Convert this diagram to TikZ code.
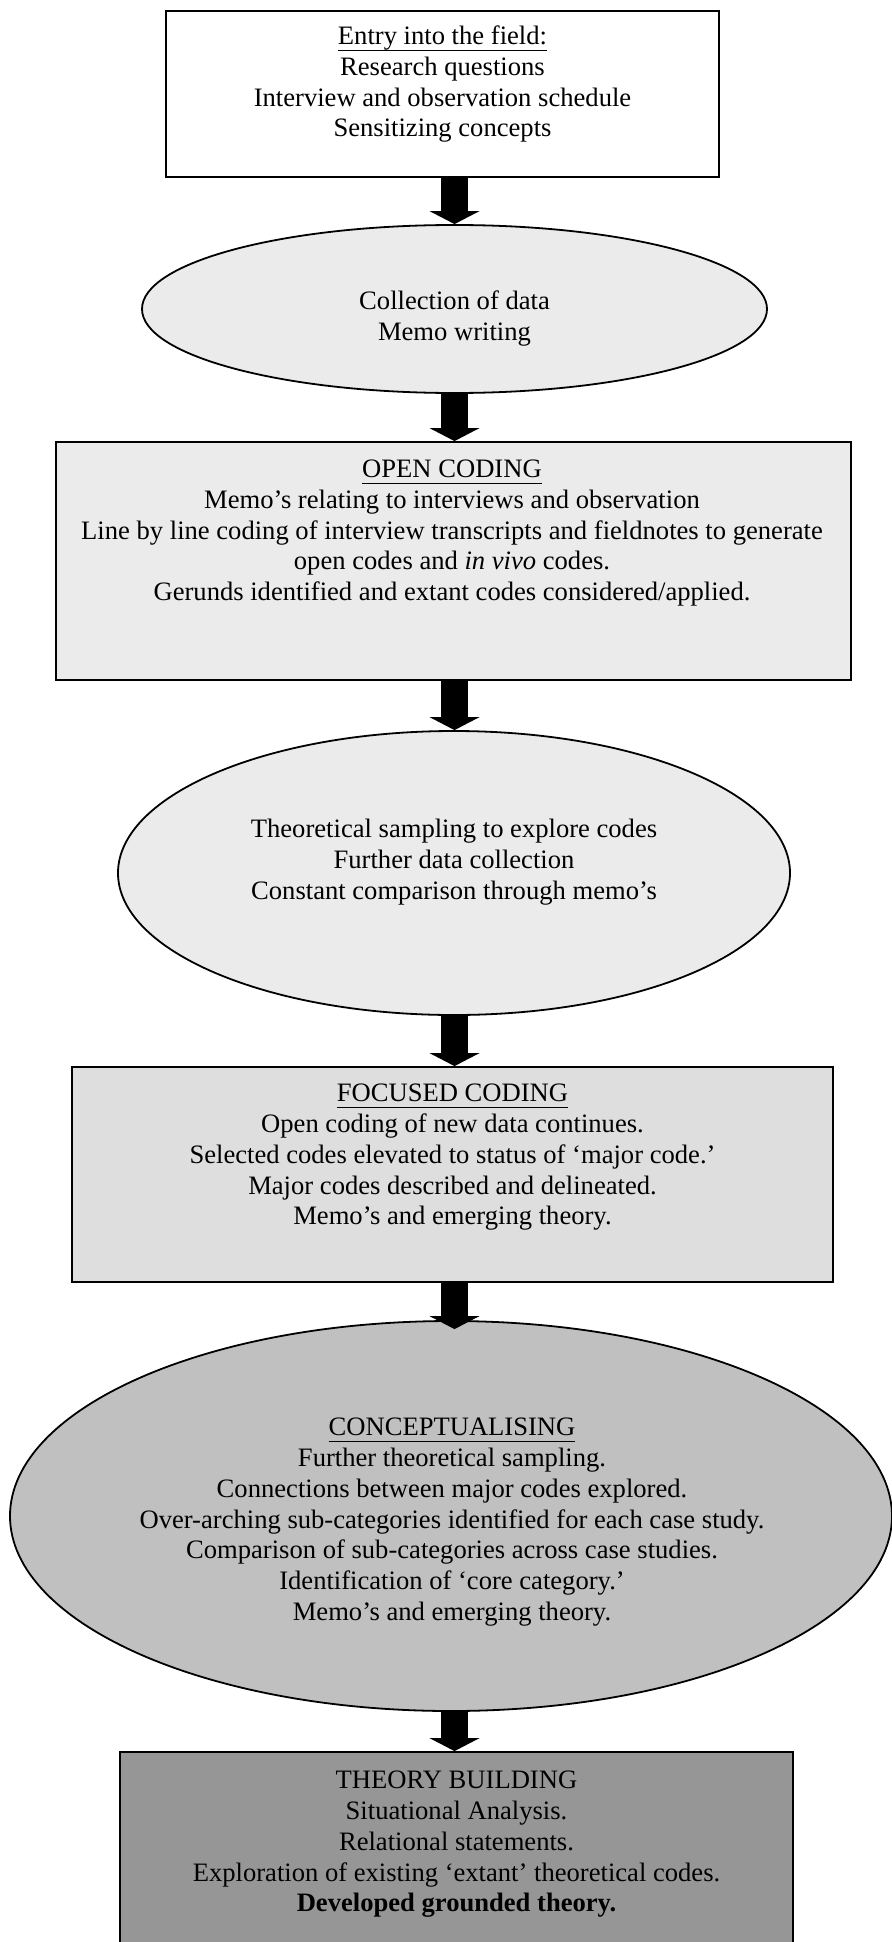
\documentclass[tikz,border=0pt]{standalone}
\usepackage{fontspec}
\setmainfont{Liberation Serif}
\usetikzlibrary{arrows.meta, shapes.geometric, calc}
\definecolor{fillA}{gray}{0.92}
\definecolor{fillB}{gray}{0.87}
\definecolor{fillC}{gray}{0.753}
\definecolor{fillD}{gray}{0.59}
\newcommand\myul[1]{\leavevmode\setbox0=\hbox{#1}\rlap{\rule[-3pt]{\wd0}{0.6pt}}\box0}
\tikzset{
  shapebox/.style={draw=black, line width=0.9pt, rectangle, inner sep=0pt},
  shapeoval/.style={draw=black, line width=0.9pt, ellipse, inner sep=0pt},
  txt/.style={align=center, anchor=north, inner sep=0pt, font=\fontsize{13.3}{15.35}\selectfont},
  flow/.style={line width=13.5pt, -{Triangle[width=25pt, length=6.5pt, line width=0pt]}},
}
\begin{document}
\begin{tikzpicture}[x=0.5pt, y=-0.5pt]
\useasboundingbox (0,0) rectangle (892,1942);
\clip (0,0) rectangle (892,1942);
\coordinate (ax) at (454.5,0);

\node[shapebox, fill=white, minimum width=276.5pt, minimum height=83pt] (b1) at (442.5,94) {};
\node[shapeoval, fill=fillA, minimum width=312.5pt, minimum height=84pt] (e1) at (454.5,309) {};
\node[shapebox, fill=fillA, minimum width=397.5pt, minimum height=119pt] (b2) at (453.5,561) {};
\node[shapeoval, fill=fillA, minimum width=336pt, minimum height=142pt] (e2) at (454,873) {};
\node[shapebox, fill=fillB, minimum width=380.5pt, minimum height=107.5pt] (b3) at (452.5,1174.5) {};
\node[shapeoval, fill=fillC, minimum width=441pt, minimum height=195pt] (e3) at (451,1516) {};
\node[shapebox, fill=fillD, minimum width=336.5pt, minimum height=104pt] (b4) at (456.5,1856) {};

\node[txt] (t1) at (442.5,23) {\strut\myul{Entry into the field:}\\Research questions\\Interview and observation schedule\\Sensitizing concepts};
\node[txt] (t2) at (454.5,288) {\strut Collection of data\\Memo writing};
\node[txt] (t3) at (452,456) {\strut\myul{OPEN CODING}\\Memo’s relating to interviews and observation\\Line by line coding of interview transcripts and fieldnotes to generate\\open codes and \textit{in vivo} codes.\\Gerunds identified and extant codes considered/applied.};
\node[txt] (t4) at (454,816) {\strut Theoretical sampling to explore codes\\Further data collection\\Constant comparison through memo’s};
\node[txt] (t5) at (452.5,1080) {\strut\myul{FOCUSED CODING}\\Open coding of new data continues.\\Selected codes elevated to status of ‘major code.’\\Major codes described and delineated.\\Memo’s and emerging theory.};
\node[txt] (t6) at (452,1414) {\strut\myul{CONCEPTUALISING}\\Further theoretical sampling.\\Connections between major codes explored.\\Over-arching sub-categories identified for each case study.\\Comparison of sub-categories across case studies.\\Identification of ‘core category.’\\Memo’s and emerging theory.};
\node[txt] (t7) at (456.5,1767) {\strut THEORY BUILDING\\Situational Analysis.\\Relational statements.\\Exploration of existing ‘extant’ theoretical codes.\\\textbf{Developed grounded theory.}};

\draw[flow] (b1.south -| ax) -- (e1.north -| ax);
\draw[flow] (e1.south -| ax) -- (b2.north -| ax);
\draw[flow] (b2.south -| ax) -- (e2.north -| ax);
\draw[flow] (e2.south -| ax) -- (b3.north -| ax);
\draw[flow] (b3.south -| ax) -- ($(e3.north -| ax)+(0,9)$);
\draw[flow] (e3.south -| ax) -- (b4.north -| ax);
\end{tikzpicture}
\end{document}
